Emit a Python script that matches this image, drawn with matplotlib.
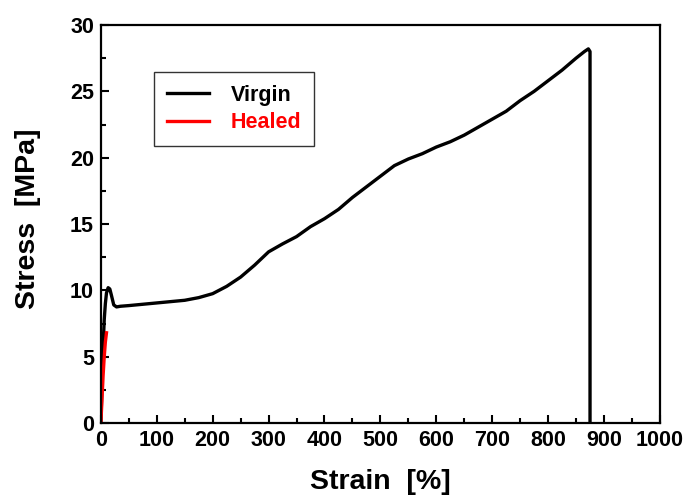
import matplotlib
matplotlib.use("Agg")
import matplotlib.pyplot as plt
from matplotlib.ticker import MultipleLocator

plt.rcParams["font.family"] = ["Liberation Sans", "DejaVu Sans"]
plt.rcParams["font.weight"] = "bold"

# Tensile curves (strain in %, stress in MPa)
virgin_strain = [0, 2, 4, 6, 8, 10, 13, 16, 19, 23, 28, 35, 50, 75, 100, 125, 150, 175, 200,
                 225, 250, 275, 300, 325, 350, 375, 400, 425, 450, 475, 500, 525, 550,
                 575, 600, 625, 650, 675, 700, 725, 750, 775, 800, 825, 850, 865, 872, 875, 875]
virgin_stress = [0, 3.0, 5.8, 7.8, 9.0, 9.8, 10.2, 10.1, 9.6, 8.9, 8.75, 8.8, 8.85, 8.95, 9.05, 9.15, 9.25,
                 9.45, 9.75, 10.3, 11.0, 11.9, 12.9, 13.5, 14.05, 14.8, 15.4, 16.1, 17.0, 17.8, 18.6, 19.4,
                 19.9, 20.3, 20.8, 21.2, 21.7, 22.3, 22.9, 23.5, 24.3, 25.0, 25.8, 26.6, 27.5, 28.0, 28.2, 28.0, 0]
healed_strain = [0, 2, 4, 6, 8, 10]
healed_stress = [0, 1.8, 3.6, 5.0, 6.1, 6.8]

fig = plt.figure(figsize=(6.91, 5.0), dpi=100)
ax = fig.add_axes([0.146, 0.154, 0.809, 0.796])

ax.plot(virgin_strain, virgin_stress, color="black", lw=2.4, label="Virgin")
ax.plot(healed_strain, healed_stress, color="red", lw=2.4, label="Healed")

ax.set_xlim(0, 1000)
ax.set_ylim(0, 30)
ax.xaxis.set_major_locator(MultipleLocator(100))
ax.xaxis.set_minor_locator(MultipleLocator(50))
ax.yaxis.set_major_locator(MultipleLocator(5))
ax.yaxis.set_minor_locator(MultipleLocator(2.5))
ax.tick_params(which="both", direction="in", top=False, right=False, width=1.5)
ax.tick_params(which="major", length=6, labelsize=15.5, pad=5)
ax.tick_params(which="minor", length=3.5)
for s in ax.spines.values():
    s.set_linewidth(1.6)

ax.set_xlabel("Strain  [%]", fontsize=20.5, fontweight="bold", labelpad=13)
ax.set_ylabel("Stress  [MPa]", fontsize=20.5, fontweight="bold", labelpad=21)
ax.yaxis.label.set_y(0.514)

leg = ax.legend(loc="upper left", bbox_to_anchor=(0.095, 0.882), borderaxespad=0,
                fontsize=15.5, frameon=True, fancybox=False, edgecolor="black",
                handlelength=1.95, borderpad=0.6, labelspacing=0.3, handletextpad=1.0)
leg.get_frame().set_linewidth(1.0)
leg.get_texts()[1].set_color("red")

fig.savefig("out.png", dpi=100)
